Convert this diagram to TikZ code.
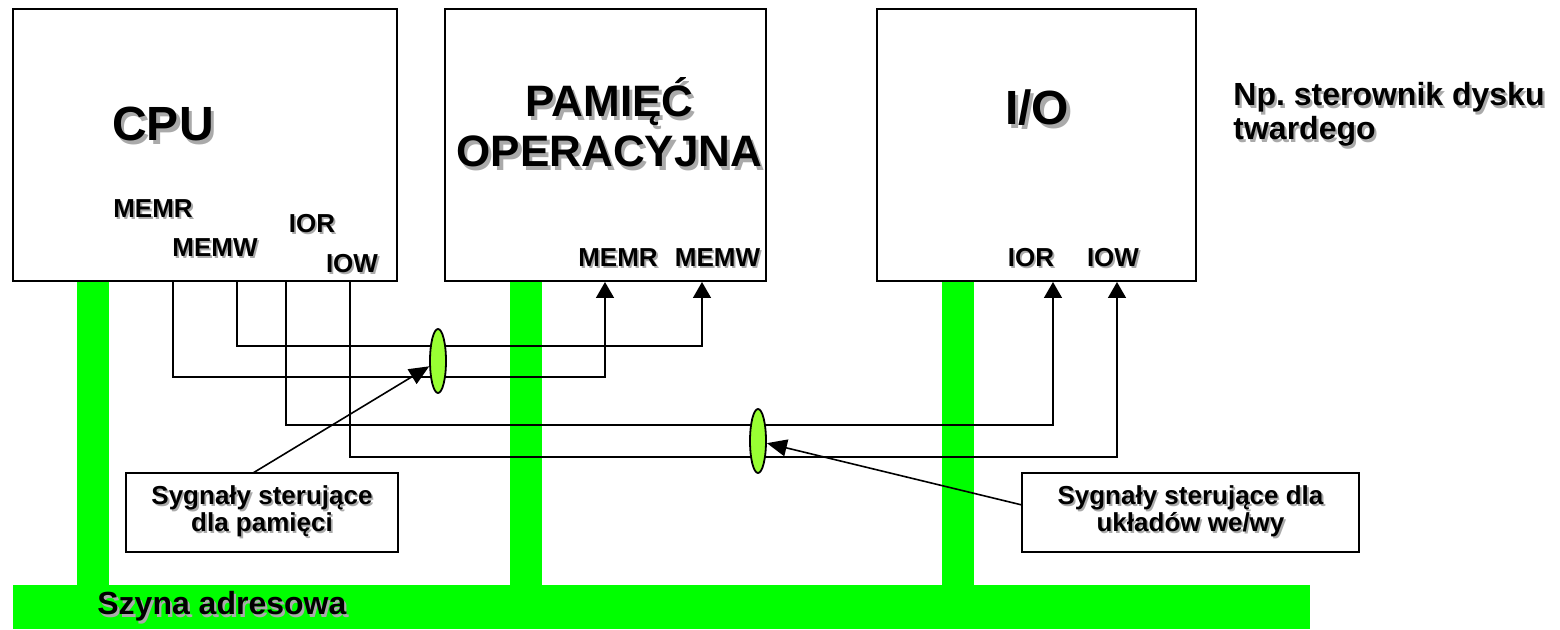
\documentclass[tikz,border=0pt]{standalone}
\usepackage{fontspec}
\setmainfont{Liberation Sans}
\usepackage{xcolor}
\usepackage{tikz}
\usetikzlibrary{shapes.geometric, positioning, arrows.meta}

\definecolor{busgreen}{RGB}{0,255,0}
\definecolor{loopgreen}{RGB}{153,255,51}
\definecolor{shadowgray}{RGB}{170,170,170}
\newcommand{\shd}[1]{\rlap{\kern0.07em\raisebox{-0.07em}{\textcolor{shadowgray}{#1}}}#1}
\frenchspacing

\begin{document}
\begin{tikzpicture}[
    x=0.5pt, y=-0.5pt,
    unit/.style={draw, line width=1pt, inner sep=0pt, outer sep=0pt,
        minimum height=136pt},
    big/.style={font=\bfseries\fontsize{24}{26}\selectfont, anchor=base},
    sig/.style={font=\bfseries\fontsize{13}{14}\selectfont, anchor=base},
    note/.style={draw, line width=0.8pt, align=center, inner sep=0pt,
        outer sep=0pt, minimum height=39.5pt,
        font=\bfseries\fontsize{13}{13.5}\selectfont},
    loop/.style={ellipse, draw, line width=0.9pt, fill=loopgreen,
        minimum width=8pt, minimum height=32pt, inner sep=0pt},
    arr/.style={line width=0.75pt, -{Triangle[width=9pt,length=8pt]}},
    callout/.style={line width=0.8pt, -{Triangle[width=8.5pt,length=10pt]}}
]
\useasboundingbox (0,0) rectangle (1560,630);

% --- Units ---
\node[unit, minimum width=192pt] (cpu) at (205,145) {};
\node[unit, minimum width=160.5pt] (mem) at (605.5,145) {};
\node[unit, minimum width=159.5pt] (io) at (1036.5,145) {};

% --- Address bus ---
\fill[busgreen] (77,282) rectangle (109,586);
\fill[busgreen] (510,282) rectangle (542,586);
\fill[busgreen] (942,282) rectangle (974,586);
\fill[busgreen] (13,585) rectangle (1310,629);
\node[font=\bfseries\fontsize{16}{18}\selectfont, anchor=base west, inner sep=0pt]
    (busname) at (97,615) {\shd{Szyna adresowa}};

% --- Unit names ---
\node[big] (cpuname) at (163,141) {\shd{CPU}};
\node[big, font=\bfseries\fontsize{22}{25}\selectfont, align=center]
    (memname) at (609.5,167) {\shd{PAMIĘĆ}\\\shd{OPERACYJNA}};
\node[big] (ioname) at (1037,125) {\shd{I/O}};
\node[font=\bfseries\fontsize{16}{14}\selectfont, anchor=base west, align=left,
      inner sep=0pt]
    (disk) at (1233,140) {\shd{Np. sterownik dysku}\\\shd{twardego}};

% --- Signal labels ---
\node[sig] (cpumemr) at (153,218) {\shd{MEMR}};
\node[sig] (cpumemw) at (215,257) {\shd{MEMW}};
\node[sig] (cpuior) at (312,233) {\shd{IOR}};
\node[sig] (cpuiow) at (352,273) {\shd{IOW}};
\node[sig] (memmemr) at (618,267) {\shd{MEMR}};
\node[sig] (memmemw) at (717.5,267) {\shd{MEMW}};
\node[sig] (ioior) at (1031,267) {\shd{IOR}};
\node[sig] (ioiow) at (1113,267) {\shd{IOW}};

% --- Ports ---
\coordinate (c-memr) at (173,282);
\coordinate (c-memw) at (237,282);
\coordinate (c-ior) at (286,282);
\coordinate (c-iow) at (350,282);
\coordinate (m-memr) at (605,282);
\coordinate (m-memw) at (702,282);
\coordinate (i-ior) at (1053,282);
\coordinate (i-iow) at (1117,282);

% --- Control lines ---
\draw[arr] (c-memr) -- ++(0,95) -| (m-memr);
\draw[arr] (c-memw) -- ++(0,64) -| (m-memw);
\draw[arr] (c-ior) -- ++(0,143) -| (i-ior);
\draw[arr] (c-iow) -- ++(0,175) -| (i-iow);

\node[loop] (bundle1) at (438,361) {};
\node[loop] (bundle2) at (758,441) {};

% --- Notes ---
\node[note, minimum width=136pt] (note1) at (262,512.5)
    {\shd{Sygnały sterujące}\\\shd{dla pamięci}};
\node[note, minimum width=168.5pt] (note2) at (1190.5,512.5)
    {\shd{Sygnały sterujące dla}\\\shd{układów we/wy}};

\draw[callout] ([xshift=-4.5pt]note1.north) -- (bundle1);
\draw[callout] ([yshift=3.75pt]note2.west) -- (bundle2);

\end{tikzpicture}
\end{document}
